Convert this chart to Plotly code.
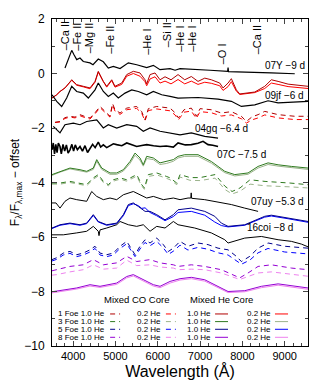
import plotly.graph_objects as go

# ---- observed spectra (normalised flux minus offset) ----
wl_07y = [3807, 3966, 4020, 4084, 4162, 4240, 4398, 4469, 4594, 4713, 4831, 4949, 5108, 5304, 5502,
          5738, 5895, 6053, 6290, 6408, 6526, 6873, 7235, 7650, 7661, 7672, 8055, 8677, 9237]
fl_07y = [0.20, 0.85, 0.69, 0.51, 0.57, 0.44, 0.39, 0.32, 0.53, 0.43, 0.20, 0.26, 0.18, 0.39, 0.32,
          0.22, 0.30, 0.14, 0.18, 0.12, 0.18, 0.14, 0.12, 0.08, 0.22, 0.07, 0.06, 0.02, -0.01]

wl_09jf = [3500, 3611, 3729, 3847, 3966, 4084, 4240, 4358, 4517, 4594, 4713, 4831, 4949, 5067, 5226, 5384,
           5540, 5738, 5895, 6093, 6290, 6479, 6951, 7424, 7739, 7975, 8292, 8606, 8843, 9157, 9550]
fl_09jf = [-0.78, -1.02, -1.21, -0.90, -0.47, -0.66, -0.72, -0.90, -0.60, -0.35, -0.66, -0.84, -0.72, -0.90,
           -0.72, -0.60, -0.66, -0.78, -0.66, -0.78, -0.84, -0.90, -0.88, -0.94, -1.02, -1.21, -1.15, -1.00,
           -1.08, -1.06, -1.02]

wl_04gq = [3531, 3618, 3689, 3807, 4004, 4162, 4320, 4557, 4713, 4831, 5029, 5266, 5502, 5658, 5817, 6053,
           6290, 6526, 6793, 7110, 7424]
fl_04gq = [-1.94, -2.06, -2.18, -1.88, -1.82, -1.88, -1.76, -1.70, -2.00, -1.88, -2.00, -1.88, -1.94, -2.12,
           -2.00, -2.12, -2.18, -2.25, -2.18, -2.31, -2.37]

wl_07c = [3500, 3530, 3560, 3590, 3620, 3650, 3689, 3720, 3760, 3800, 3840, 3880, 3925, 3970, 4010, 4050,
          4100, 4162, 4220, 4280, 4340, 4398, 4460, 4520, 4594, 4650, 4713, 4793, 4870, 4950, 5029, 5150,
          5266, 5400, 5502, 5620, 5738, 5900, 6053, 6200, 6368, 6479, 6650, 6793, 6950, 7070, 7188, 7300, 7424]
fl_07c = [-2.80, -2.55, -2.95, -2.60, -2.90, -2.55, -2.68, -2.95, -2.60, -2.85, -2.62, -2.92, -2.80, -2.60,
          -2.85, -2.62, -2.80, -2.68, -2.85, -2.65, -2.90, -2.75, -2.60, -2.72, -2.52, -2.70, -2.62, -2.72,
          -2.66, -2.58, -2.61, -2.65, -2.55, -2.62, -2.68, -2.64, -2.61, -2.65, -2.68, -2.66, -2.70, -2.55,
          -2.62, -2.61, -2.56, -2.49, -2.61, -2.63, -2.68]

wl_07uy = [3500, 3594, 3689, 3807, 3925, 4084, 4320, 4438, 4557, 4713, 4871, 5029, 5186, 5422, 5580,
           5738, 5895, 6131, 6368, 6526, 6715, 6780, 6790, 6800, 7110, 7502, 7739, 8055, 8370]
fl_07uy = [-4.75, -4.75, -4.94, -4.69, -4.57, -4.63, -4.69, -4.33, -4.51, -4.63, -4.57, -4.63, -4.45, -4.33,
           -4.45, -4.57, -4.51, -4.63, -4.57, -4.63, -4.57, -4.57, -4.38, -4.58, -4.63, -4.75, -4.81, -4.94, -5.06]

wl_16coi = [3500, 3767, 4084, 4320, 4476, 4594, 4611, 4635, 4793, 5029, 5108, 5304, 5502, 5658, 5817,
            5975, 6171, 6368, 6479, 6873, 7266, 7583, 7661, 8055, 8448, 8843, 9157, 9393, 9550]
fl_16coi = [-5.92, -5.92, -5.85, -5.79, -5.61, -5.79, -5.95, -5.74, -5.67, -5.55, -5.43, -5.55, -5.61, -5.55,
            -5.79, -5.61, -5.67, -5.43, -5.55, -5.67, -5.85, -6.10, -6.22, -6.04, -5.98, -6.10, -6.16, -6.26, -6.36]

# ---- models: mixed He core (solid) ----
wl_he1 = [3500, 3611, 3689, 3807, 3966, 4084, 4240, 4398, 4517, 4594, 4713, 4793, 4911, 4989, 5148,
          5266, 5422, 5580, 5698, 5738, 5817, 5935, 6053, 6171, 6313, 6479, 6637, 6793, 6951, 7110,
          7266, 7464, 7542, 7661, 7739, 7857, 7937, 8292, 8528, 8684, 8843, 9079, 9550]
fl_he1_10 = [-0.90, -0.78, -0.66, -0.53, -0.23, -0.41, -0.47, -0.53, -0.29, 0.08, -0.29, -0.47, -0.23, -0.47,
             -0.35, -0.04, 0.08, 0.02, -0.23, -0.38, -0.04, 0.02, -0.23, -0.12, -0.23, -0.04, -0.23, -0.11,
             -0.29, -0.17, -0.23, -0.35, -0.53, -0.35, -0.19, -0.60, -0.75, -0.68, -0.47, -0.23, -0.29, -0.39, -0.47]
fl_he1_02 = [-0.90, -0.78, -0.66, -0.53, -0.25, -0.43, -0.49, -0.56, -0.32, 0.05, -0.30, -0.50, -0.26, -0.50,
             -0.40, -0.10, 0.00, -0.10, -0.30, -0.45, -0.20, -0.12, -0.35, -0.28, -0.38, -0.22, -0.38, -0.28,
             -0.40, -0.32, -0.36, -0.45, -0.62, -0.48, -0.30, -0.65, -0.77, -0.70, -0.55, -0.35, -0.40, -0.48, -0.55]

wl_he3 = [3500, 3689, 3925, 4162, 4320, 4476, 4557, 4675, 4871, 5029, 5186, 5344, 5462, 5580, 5658, 5738,
          5895, 6053, 6211, 6368, 6479, 6637, 6951, 7266, 7583, 7819, 8133, 8370, 8606, 8843, 9157, 9550]
fl_he3_10 = [-3.71, -3.59, -3.47, -3.53, -3.59, -3.47, -3.16, -3.47, -3.65, -3.65, -3.53, -3.23, -2.92, -3.10,
             -3.35, -3.04, -3.10, -3.28, -3.23, -3.16, -3.04, -2.98, -2.98, -3.23, -3.59, -3.71, -3.65, -3.41,
             -3.28, -3.35, -3.41, -3.47]
fl_he3_02 = [-3.74, -3.62, -3.50, -3.56, -3.62, -3.52, -3.22, -3.52, -3.70, -3.70, -3.58, -3.30, -3.00, -3.18,
             -3.40, -3.12, -3.16, -3.34, -3.30, -3.22, -3.10, -3.04, -3.04, -3.29, -3.64, -3.76, -3.70, -3.47,
             -3.34, -3.40, -3.46, -3.52]

wl_he5 = [3500, 3689, 3925, 4162, 4320, 4476, 4594, 4793, 5029, 5186, 5304, 5422, 5540, 5620, 5700, 5817,
          5975, 6171, 6368, 6479, 6793, 7110, 7346, 7502, 7661, 8055, 8528, 8684, 9079, 9550]
fl_he5_10 = [-5.67, -5.55, -5.49, -5.55, -5.49, -5.18, -5.43, -5.55, -5.49, -5.18, -4.81, -4.75, -4.88, -4.98,
             -5.06, -5.06, -5.18, -5.37, -5.18, -5.00, -4.94, -5.06, -5.24, -5.49, -5.61, -5.55, -5.24, -5.20,
             -5.30, -5.43]
fl_he5_02 = [-5.69, -5.57, -5.51, -5.57, -5.51, -5.21, -5.45, -5.57, -5.51, -5.22, -4.85, -4.78, -4.85, -4.95,
             -4.93, -5.10, -5.22, -5.40, -5.25, -5.10, -5.06, -5.20, -5.45, -5.58, -5.63, -5.57, -5.27, -5.23,
             -5.33, -5.46]

wl_he8 = [3500, 3767, 4084, 4398, 4635, 5029, 5266, 5422, 5658, 5895, 6053, 6290, 6526, 6793, 7110, 7424,
          7661, 8055, 8448, 8843, 9237, 9550]
fl_he8_10 = [-8.01, -7.94, -7.87, -7.75, -7.81, -7.69, -7.45, -7.38, -7.57, -7.75, -7.81, -7.63, -7.53, -7.48,
             -7.57, -7.81, -8.00, -7.97, -7.81, -7.72, -7.81, -7.87]
fl_he8_02 = [-8.05, -7.98, -7.91, -7.80, -7.85, -7.74, -7.50, -7.43, -7.62, -7.80, -7.86, -7.69, -7.58, -7.53,
             -7.62, -7.86, -8.04, -8.01, -7.86, -7.77, -7.86, -7.92]

# ---- models: mixed CO core (dashed) ----
wl_co1 = [3571, 3689, 3807, 3925, 4044, 4162, 4280, 4398, 4517, 4635, 4753, 4871, 4930, 4989, 5108, 5266,
          5502, 5620, 5698, 5777, 5975, 6171, 6290, 6408, 6487, 6620, 6793, 6911, 6999, 7266, 7502, 7739,
          7975, 8093, 8228, 8370, 8528, 8843, 9237, 9550]
fl_co1_10 = [-1.79, -1.76, -1.62, -1.57, -1.60, -1.51, -1.58, -1.63, -1.44, -1.21, -1.39, -1.57, -1.10, -1.33,
             -1.45, -1.27, -1.21, -1.40, -1.70, -1.29, -1.21, -1.24, -1.27, -1.44, -1.63, -1.33, -1.27, -1.57,
             -1.29, -1.33, -1.45, -1.40, -1.57, -1.76, -1.59, -1.51, -1.39, -1.51, -1.57, -1.57]
fl_co1_02 = [-1.80, -1.78, -1.65, -1.60, -1.63, -1.55, -1.62, -1.67, -1.48, -1.25, -1.43, -1.60, -1.15, -1.38,
             -1.50, -1.33, -1.28, -1.46, -1.74, -1.36, -1.30, -1.34, -1.37, -1.52, -1.70, -1.42, -1.38, -1.65,
             -1.40, -1.44, -1.56, -1.52, -1.66, -1.82, -1.70, -1.63, -1.52, -1.63, -1.69, -1.69]

wl_co3 = [3500, 3689, 3925, 4162, 4320, 4476, 4594, 4713, 4831, 4949, 5108, 5266, 5502, 5620, 5682, 5777,
          5975, 6211, 6290, 6448, 6526, 6763, 6999, 7353, 7590, 7755, 7944, 8180, 8535, 9126, 9550]
fl_co3_10 = [-4.02, -4.02, -3.96, -4.02, -4.08, -3.83, -3.71, -3.96, -4.08, -3.90, -3.83, -3.90, -3.71, -4.08,
             -4.20, -3.71, -3.65, -3.78, -3.83, -4.02, -3.71, -3.82, -3.82, -3.71, -4.14, -4.33, -4.20, -3.90,
             -3.96, -4.02, -4.08]
fl_co3_02 = [-4.06, -4.06, -4.00, -4.06, -4.12, -3.88, -3.76, -4.00, -4.12, -3.95, -3.88, -3.95, -3.77, -4.13,
             -4.25, -3.78, -3.72, -3.85, -3.90, -4.08, -3.80, -3.92, -3.93, -3.84, -4.26, -4.42, -4.32, -4.06,
             -4.12, -4.16, -4.20]

wl_co5 = [3500, 3611, 3767, 3925, 4084, 4240, 4398, 4517, 4635, 4793, 4949, 5108, 5266, 5384, 5462, 5580,
          5698, 5817, 5975, 6131, 6249, 6368, 6526, 6715, 6951, 7188, 7424, 7661, 7857, 7975, 8174, 8370,
          8606, 9001, 9550]
fl_co5_10 = [-6.83, -6.76, -6.59, -6.53, -6.65, -6.59, -6.47, -6.34, -6.59, -6.65, -6.59, -6.34, -6.16, -6.47,
             -6.65, -6.34, -6.10, -6.22, -6.04, -6.28, -6.53, -6.41, -6.16, -6.34, -6.22, -6.28, -6.41, -6.47,
             -6.71, -6.90, -6.71, -6.41, -6.22, -6.34, -6.41]
fl_co5_02 = [-6.88, -6.82, -6.66, -6.60, -6.72, -6.66, -6.55, -6.42, -6.66, -6.72, -6.66, -6.42, -6.25, -6.55,
             -6.72, -6.44, -6.20, -6.32, -6.16, -6.40, -6.64, -6.52, -6.30, -6.48, -6.38, -6.45, -6.58, -6.66,
             -6.86, -7.00, -6.85, -6.58, -6.42, -6.55, -6.62]

wl_co8 = [3500, 3611, 3925, 4240, 4476, 4713, 5029, 5266, 5502, 5817, 6053, 6368, 6479, 6793, 7110, 7502,
          7739, 7937, 8133, 8370, 8684, 9157, 9550]
fl_co8_10 = [-7.24, -7.20, -7.08, -7.02, -6.83, -7.02, -6.95, -6.71, -6.90, -6.83, -6.95, -7.02, -7.08, -7.02,
             -7.08, -7.20, -7.38, -7.50, -7.32, -7.08, -7.02, -7.14, -7.20]
fl_co8_02 = [-7.40, -7.38, -7.28, -7.20, -7.02, -7.18, -7.14, -6.85, -7.05, -7.02, -7.10, -7.14, -7.20, -7.18,
             -7.20, -7.32, -7.45, -7.56, -7.45, -7.32, -7.28, -7.36, -7.44]

# ---- annotations ----
line_ids = ["–Ca II", "–Fe II", "–Mg II", "–Fe II", "–He I", "–Si II", "–He I", "–He I", "–O I", "–Ca II"]
line_wl = [3807, 4091, 4375, 4871, 5746, 6219, 6526, 6810, 7519, 8346]
line_top = [1.97, 1.90, 1.90, 1.79, 1.68, 1.90, 1.79, 1.79, 1.13, 1.79]

sn_names = ["07Y −9 d", "09jf −6 d", "04gq −6.4 d", "07C −7.5 d", "07uy −5.3 d", "16coi −8 d"]
sn_x = [9516, 9500, 8174, 8606, 9500, 9245]
sn_y = [0.29, -0.81, -2.03, -2.98, -4.69, -5.66]

energies = ["1 Foe", "3 Foe", "5 Foe", "8 Foe"]
dark_cols = ["#b00000", "#2f7a1f", "#00008b", "#9400d3"]
light_cols = ["#ff0000", "#9cb48c", "#0000ff", "#ee82ee"]

DASH = "5px,4px"

fig = go.Figure()


def add_line(x, y, color, dash="solid", width=1.0):
    fig.add_trace(go.Scatter(x=x, y=y, mode="lines", showlegend=False, hoverinfo="skip",
                             line=dict(color=color, width=width, dash=dash)))


# models first, observations on top
add_line(wl_he1, fl_he1_02, light_cols[0])
add_line(wl_he1, fl_he1_10, dark_cols[0])
add_line(wl_co1, fl_co1_02, light_cols[0], DASH)
add_line(wl_co1, fl_co1_10, dark_cols[0], DASH)
add_line(wl_he3, fl_he3_02, light_cols[1])
add_line(wl_he3, fl_he3_10, dark_cols[1])
add_line(wl_co3, fl_co3_02, light_cols[1], DASH)
add_line(wl_co3, fl_co3_10, dark_cols[1], DASH)
add_line(wl_he5, fl_he5_02, light_cols[2])
add_line(wl_he5, fl_he5_10, dark_cols[2])
add_line(wl_co5, fl_co5_02, light_cols[2], DASH)
add_line(wl_co5, fl_co5_10, dark_cols[2], DASH)
add_line(wl_co8, fl_co8_02, light_cols[3], DASH)
add_line(wl_co8, fl_co8_10, dark_cols[3], DASH)
add_line(wl_he8, fl_he8_02, light_cols[3])
add_line(wl_he8, fl_he8_10, dark_cols[3])

add_line(wl_07y, fl_07y, "black", width=1.2)
add_line(wl_09jf, fl_09jf, "black", width=1.2)
add_line(wl_04gq, fl_04gq, "black", width=1.2)
add_line(wl_07c, fl_07c, "black", width=1.6)
add_line(wl_07uy, fl_07uy, "black", width=1.0)
add_line(wl_16coi, fl_16coi, "black", width=1.0)

FONT = "Liberation Sans, Arial, sans-serif"

for name, x, y in zip(line_ids, line_wl, line_top):
    fig.add_annotation(x=x, y=y, text=name, textangle=-90, showarrow=False, borderpad=0,
                       xanchor="center", yanchor="top", font=dict(size=11, color="black", family=FONT))

for name, x, y in zip(sn_names, sn_x, sn_y):
    fig.add_annotation(x=x, y=y, text=name, showarrow=False, xanchor="right", yanchor="middle",
                       font=dict(size=10, color="black", family=FONT))

# custom legend block (paper coordinates)
fig.add_annotation(x=0.332, y=0.141, xref="paper", yref="paper", text="Mixed CO Core", showarrow=False,
                   xanchor="center", yanchor="middle", font=dict(size=9.5, color="black", family=FONT))
fig.add_annotation(x=0.662, y=0.141, xref="paper", yref="paper", text="Mixed He Core", showarrow=False,
                   xanchor="center", yanchor="middle", font=dict(size=9.5, color="black", family=FONT))
row_y = [0.098, 0.0746, 0.0511, 0.0266]
cols = [(0.211, 0.227, 0.266, "1.0 He", DASH, 0), (0.430, 0.445, 0.484, "0.2 He", DASH, 1),
        (0.625, 0.637, 0.6875, "1.0 He", "solid", 0), (0.859, 0.871, 0.922, "0.2 He", "solid", 1)]
for i, e in enumerate(energies):
    for j, (tx, x0, x1, lab, dsh, shade) in enumerate(cols):
        text = e + " " + lab if j == 0 else lab
        fig.add_annotation(x=tx, y=row_y[i], xref="paper", yref="paper", text=text, showarrow=False,
                           xanchor="right", yanchor="middle", borderpad=0,
                           font=dict(size=8, color="black", family=FONT))
        col = dark_cols[i] if shade == 0 else light_cols[i]
        fig.add_shape(type="line", xref="paper", yref="paper", x0=x0, x1=x1, y0=row_y[i], y1=row_y[i],
                      line=dict(color=col, width=1, dash=dsh))

# the page body adds an 8 px offset, so the margins are set 8 px smaller on the top/left
fig.update_xaxes(range=[3500, 9550], tickvals=[4000, 5000, 6000, 7000, 8000, 9000], automargin=False,
                 ticks="inside", ticklen=5, showline=True, linecolor="black", linewidth=1, mirror="allticks",
                 minor=dict(dtick=200, ticks="inside", ticklen=3, tick0=3600), showgrid=False, zeroline=False,
                 tickfont=dict(size=11, color="black", family=FONT),
                 title=dict(text="Wavelength (Å)", font=dict(size=16, color="black", family=FONT), standoff=4))
fig.update_yaxes(range=[-10, 2], tickvals=[-10, -8, -6, -4, -2, 0, 2], automargin=False,
                 ticks="inside", ticklen=5, showline=True, linecolor="black", linewidth=1, mirror="allticks",
                 minor=dict(dtick=1, ticks="inside", ticklen=3), showgrid=False, zeroline=False,
                 ticklabelstandoff=4,
                 tickfont=dict(size=12, color="black", family=FONT),
                 title=dict(text="F<sub>λ</sub>/F<sub>λ,max</sub> − offset",
                            font=dict(size=12, color="black", family=FONT), standoff=2))
fig.update_layout(width=330, height=385, margin=dict(l=44, r=30, t=11, b=47),
                  plot_bgcolor="white", paper_bgcolor="white")

fig.write_html("out.html")
